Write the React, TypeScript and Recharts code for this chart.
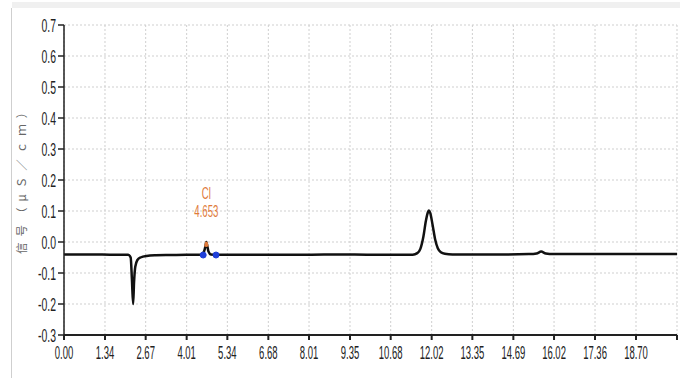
import React from 'react';
import { ComposedChart, Line, XAxis, YAxis, CartesianGrid, ReferenceDot } from 'recharts';

// retention time (min)
const times = [
  0, 0.5, 1.0, 1.5, 2.0, 2.1, 2.18, 2.22, 2.26, 2.29, 2.33, 2.4, 2.5, 2.7, 3.0,
  3.5, 4.0, 4.4, 4.5, 4.58, 4.62, 4.653, 4.69, 4.72, 4.8, 4.97, 5.4, 6.0, 7.0,
  8.0, 9.0, 10.0, 11.0, 11.4, 11.55, 11.65, 11.75, 11.83, 11.9, 11.93, 11.97,
  12.05, 12.13, 12.22, 12.32, 12.45, 12.7, 13.5, 14.5, 15.2, 15.45, 15.6, 15.75,
  16.0, 17.0, 18.0, 19.0, 20.04,
];
// conductivity signal (μS/cm)
const signal = [
  -0.04, -0.04, -0.04, -0.041, -0.041, -0.041, -0.05, -0.12, -0.2, -0.13, -0.08,
  -0.058, -0.05, -0.045, -0.043, -0.042, -0.041, -0.041, -0.04, -0.03, -0.015,
  0.0, -0.015, -0.03, -0.04, -0.041, -0.041, -0.041, -0.041, -0.041, -0.04,
  -0.041, -0.041, -0.041, -0.036, -0.022, 0.018, 0.068, 0.097, 0.102, 0.095,
  0.055, 0.01, -0.02, -0.033, -0.038, -0.04, -0.04, -0.04, -0.039, -0.037,
  -0.031, -0.037, -0.039, -0.039, -0.039, -0.039, -0.039,
];
// identified peak section
const peakTimes = [4.62, 4.653, 4.69];
const peakValues = [-0.015, 0.0, -0.015];
const peakName = 'Cl';
const peakTime = 4.653;
const peakStart = 4.55;
const peakEnd = 4.97;
const baseValue = -0.042;

const xTicks = [0, 1.34, 2.67, 4.01, 5.34, 6.68, 8.01, 9.35, 10.68, 12.02, 13.35, 14.69, 16.02, 17.36, 18.7, 20.04];
const yTicks = [-0.3, -0.2, -0.1, 0.0, 0.1, 0.2, 0.3, 0.4, 0.5, 0.6, 0.7];

const data = times.map((t, i) => {
  const k = peakTimes.indexOf(t);
  return { t, v: signal[i], peak: k >= 0 ? peakValues[k] : null };
});

const font = "'Liberation Sans', Arial, sans-serif";

// narrow, tall tick labels like the instrument software draws
const XTick = (props: any) => {
  const { x, y, payload } = props;
  if (payload.value > 20) return null;
  return (
    <text transform={`translate(${x},${y + 17}) scale(0.5,1)`} textAnchor="middle" fill="#222" fontSize={19} fontFamily={font}>
      {payload.value.toFixed(2)}
    </text>
  );
};

const YTick = (props: any) => {
  const { x, y, payload } = props;
  return (
    <text transform={`translate(${x},${y + 7}) scale(0.55,1)`} textAnchor="end" fill="#222" fontSize={19} fontFamily={font}>
      {payload.value.toFixed(1)}
    </text>
  );
};

const PeakLabel = (props: any) => {
  const { viewBox } = props;
  const x = viewBox.x + viewBox.width / 2;
  const y = viewBox.y;
  return (
    <g fill="#e07a3a" fontFamily={font} fontSize={16} textAnchor="middle">
      <text transform={`translate(${x},${y - 43}) scale(0.6,1)`}>{peakName}</text>
      <text transform={`translate(${x},${y - 25}) scale(0.6,1)`}>{peakTime.toFixed(3)}</text>
    </g>
  );
};

export default function App() {
  return (
    <div style={{ position: 'absolute', left: 0, top: 0, width: 686, height: 378, background: '#fff' }}>
      <div style={{ position: 'absolute', left: 12, top: 2, width: 668, height: 6, background: '#f0f0f0' }} />
      <div style={{ position: 'absolute', left: 11, top: 8, width: 1, height: 370, background: '#cfcfcf' }} />
      <ComposedChart width={686} height={378} data={data} margin={{ top: 25, right: 9, bottom: 13, left: 10 }}>
        <CartesianGrid stroke="#cfcfcf" strokeDasharray="2 2" />
        <XAxis
          dataKey="t"
          type="number"
          domain={[0, 20.04]}
          ticks={xTicks}
          interval={0}
          stroke="#222"
          strokeWidth={2}
          tickSize={5}
          height={30}
          tick={<XTick />}
        />
        <YAxis
          type="number"
          domain={[-0.3, 0.7]}
          ticks={yTicks}
          interval={0}
          stroke="#222"
          strokeWidth={1.5}
          tickSize={6}
          width={54}
          tick={<YTick />}
          label={{
            value: '信号（μＳ／ｃｍ）',
            angle: -90,
            position: 'insideLeft',
            offset: 0,
            dx: 12,
            dy: 74,
            style: { fill: '#666', fontSize: 11.5, letterSpacing: 6, fontFamily: "'Noto Sans CJK SC', sans-serif" },
          }}
        />
        <Line dataKey="v" type="monotone" stroke="#111" strokeWidth={2.5} dot={false} isAnimationActive={false} />
        <Line dataKey="peak" type="linear" stroke="#e07a3a" strokeWidth={2.5} dot={false} connectNulls={false} isAnimationActive={false} />
        <ReferenceDot x={peakTime} y={0.0} r={0} fill="none" stroke="none" label={<PeakLabel />} />
        <ReferenceDot x={peakStart} y={baseValue} r={3} fill="#1f3fd8" stroke="#1f3fd8" />
        <ReferenceDot x={peakEnd} y={baseValue} r={3} fill="#1f3fd8" stroke="#1f3fd8" />
      </ComposedChart>
    </div>
  );
}
